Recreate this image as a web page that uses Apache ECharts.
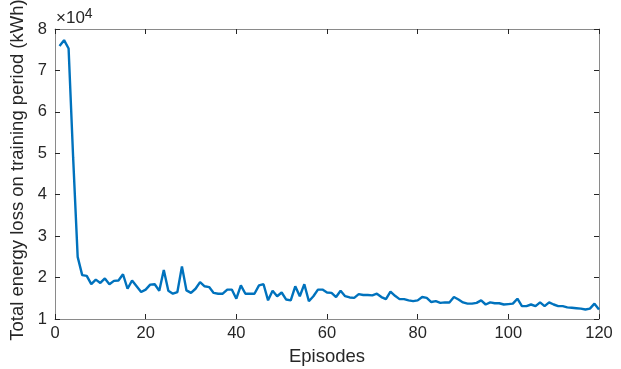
<!DOCTYPE html>
<html>
<head>
<meta charset="utf-8">
<script src="https://cdn.jsdelivr.net/npm/echarts@6/dist/echarts.min.js"></script>
<style>
html,body{margin:0;padding:0;background:#fff;}
#chart{width:621px;height:369px;}
</style>
</head>
<body>
<div id="chart"></div>
<script>
// Episodes 1..120
const episodes = Array.from({length:120}, (_, i) => i + 1);
// Total energy loss, in units of 10^4 kWh
const lossE4 = [
  7.59, 7.73, 7.53, 4.90, 2.50, 2.06, 2.04, 1.84, 1.95, 1.87,
  1.98, 1.84, 1.92, 1.93, 2.08, 1.73, 1.93, 1.79, 1.65, 1.71,
  1.83, 1.84, 1.68, 2.18, 1.68, 1.61, 1.65, 2.27, 1.69, 1.63,
  1.73, 1.89, 1.79, 1.77, 1.63, 1.61, 1.61, 1.71, 1.71, 1.49,
  1.81, 1.61, 1.61, 1.61, 1.81, 1.84, 1.45, 1.68, 1.55, 1.64,
  1.47, 1.45, 1.79, 1.55, 1.84, 1.43, 1.55, 1.71, 1.71, 1.64,
  1.63, 1.53, 1.68, 1.55, 1.52, 1.51, 1.60, 1.58, 1.58, 1.57,
  1.61, 1.53, 1.48, 1.66, 1.56, 1.48, 1.48, 1.45, 1.43, 1.45,
  1.53, 1.51, 1.41, 1.43, 1.39, 1.40, 1.40, 1.53, 1.47, 1.40,
  1.37, 1.37, 1.39, 1.45, 1.35, 1.40, 1.38, 1.38, 1.35, 1.36,
  1.37, 1.49, 1.31, 1.31, 1.35, 1.31, 1.40, 1.31, 1.40, 1.35,
  1.31, 1.31, 1.28, 1.27, 1.26, 1.25, 1.23, 1.25, 1.37, 1.23
];
const xTicks = [0, 20, 40, 60, 80, 100, 120];
const yTicks = [1, 2, 3, 4, 5, 6, 7, 8];
const xLabel = 'Episodes';
const yLabel = 'Total energy loss on training period (kWh)';

const FONT = 'Liberation Sans, Arial, Helvetica, sans-serif';
const seriesData = episodes.map((e, i) => [e, lossE4[i]]);

const axisLineStyle = {color: '#8a8a8a', width: 1};
const tickStyle = {color: '#262626', width: 1};

const chart = echarts.init(document.getElementById('chart'));
chart.setOption({
  animation: false,
  backgroundColor: '#fff',
  grid: {left: 55, right: 22, top: 29, bottom: 50, containLabel: false, outerBoundsMode: 'none'},
  xAxis: [{
    type: 'value', min: xTicks[0], max: xTicks[xTicks.length-1], interval: 20,
    position: 'bottom',
    name: xLabel, nameLocation: 'middle', nameGap: 28,
    nameTextStyle: {fontFamily: FONT, fontSize: 18.5, color: '#262626'},
    axisLine: {show: true, onZero: false, lineStyle: axisLineStyle},
    axisTick: {show: true, inside: true, length: 5, lineStyle: tickStyle},
    axisLabel: {fontFamily: FONT, fontSize: 16.5, color: '#262626', margin: 6},
    splitLine: {show: false}
  }, {
    type: 'value', min: xTicks[0], max: xTicks[xTicks.length-1], interval: 20,
    position: 'top',
    axisLine: {show: true, onZero: false, lineStyle: axisLineStyle},
    axisTick: {show: true, inside: true, length: 5, lineStyle: tickStyle},
    axisLabel: {show: false},
    splitLine: {show: false}
  }],
  yAxis: [{
    type: 'value', min: yTicks[0], max: yTicks[yTicks.length-1], interval: 1,
    position: 'left',
    name: yLabel, nameLocation: 'middle', nameGap: 25, nameRotate: 90,
    nameTextStyle: {fontFamily: FONT, fontSize: 18.5, color: '#262626', padding: [0, 0, 0, 8]},
    axisLine: {show: true, onZero: false, lineStyle: axisLineStyle},
    axisTick: {show: true, inside: true, length: 5, lineStyle: tickStyle},
    axisLabel: {fontFamily: FONT, fontSize: 16.5, color: '#262626', margin: 8},
    splitLine: {show: false}
  }, {
    type: 'value', min: yTicks[0], max: yTicks[yTicks.length-1], interval: 1,
    position: 'right',
    axisLine: {show: true, onZero: false, lineStyle: axisLineStyle},
    axisTick: {show: true, inside: true, length: 5, lineStyle: tickStyle},
    axisLabel: {show: false},
    splitLine: {show: false}
  }],
  graphic: [{
    type: 'text', left: 56, top: 7,
    style: {
      text: '×10{sup|4}',
      font: '17px ' + FONT,
      fill: '#262626',
      rich: {sup: {fontSize: 14, fontFamily: FONT, fill: '#262626', verticalAlign: 'top', padding: [0,0,9,0]}}
    }
  }],
  series: [{
    type: 'line', xAxisIndex: 0, yAxisIndex: 0,
    data: seriesData,
    showSymbol: false, symbol: 'none',
    lineStyle: {color: '#0072BD', width: 2.4},
    itemStyle: {color: '#0072BD'}
  }]
});
</script>
</body>
</html>
